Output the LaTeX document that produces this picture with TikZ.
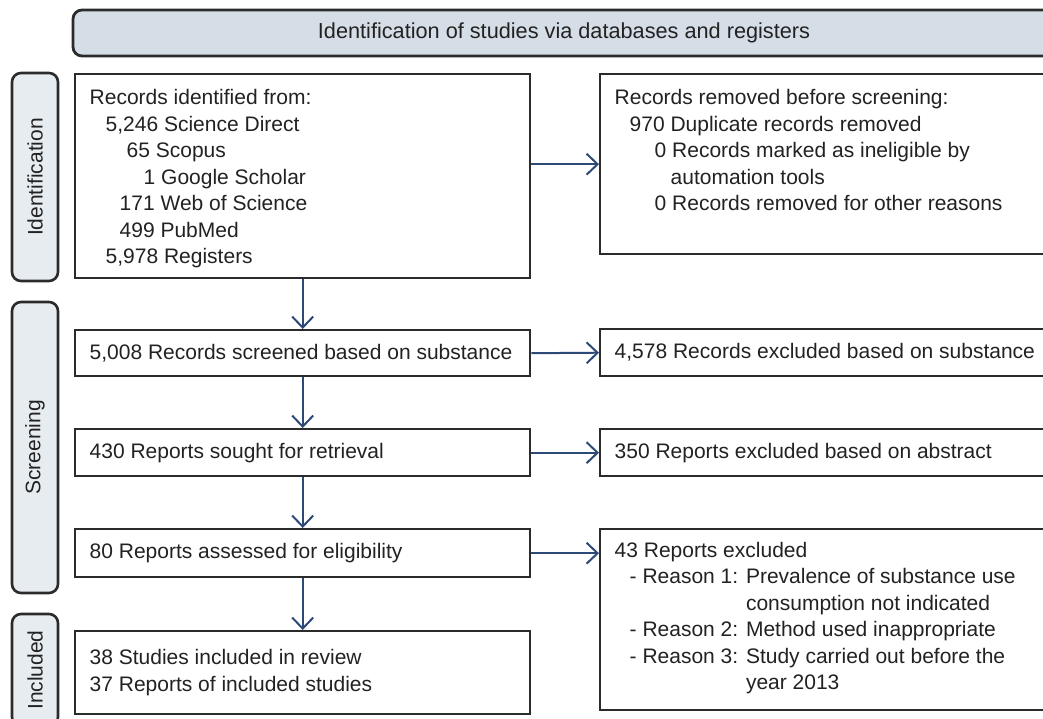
\documentclass[tikz,border=0pt]{standalone}
\usepackage{fontspec}
\setmainfont{Liberation Sans}
\usetikzlibrary{arrows.meta}
\definecolor{linec}{HTML}{2B2B2B}
\definecolor{textc}{HTML}{222222}
\definecolor{arrc}{HTML}{2D4A77}
\definecolor{headfill}{HTML}{D5DEE6}
\definecolor{sidefill}{HTML}{E7ECF1}
\begin{document}
\begin{tikzpicture}[x=1pt,y=-1pt,
  every node/.style={font=\fontsize{21pt}{26.5pt}\selectfont, text=textc},
  box/.style={draw=linec, line width=2.4pt, rectangle, anchor=north west, inner xsep=14.5pt, inner ysep=0pt, fill=white},
  sidebox/.style={draw=linec, line width=2.6pt, rounded corners=9pt, fill=sidefill, rotate=90, minimum height=46pt, inner sep=0pt},
  headbox/.style={draw=linec, line width=2.8pt, rounded corners=9pt, fill=headfill, minimum height=46pt, inner sep=0pt},
  arr/.style={draw=arrc, line width=2pt, -{Straight Barb[length=11pt, width=21pt, line width=2pt]}}
]
\useasboundingbox (0,0) rectangle (1043,718);
\clip (0,0) rectangle (1043,718);

% header
\node[headbox, minimum width=987pt] (head) at (566.5,33) {};
\node[font=\fontsize{21.7pt}{26pt}\selectfont] at (564,33) (headtext) {Identification of studies via databases and registers};

% side labels
\node[sidebox, minimum width=208pt] (sid) at (35,177) {Identification};
\node[sidebox, minimum width=291pt] (sscr) at (35,447.5) {Screening};
\node[sidebox, minimum width=112pt] (sinc) at (35,670) {Included};

% left boxes
\node[box] (box1) at (74,73) {\parbox[c][204pt][t]{426pt}{\raggedright
\rule{0pt}{30.7pt}Records identified from:\\
\hspace*{16pt}5,246 Science Direct\\
\hspace*{37pt}65 Scopus\\
\hspace*{54pt}1 Google Scholar\\
\hspace*{30pt}171 Web of Science\\
\hspace*{30pt}499 PubMed\\
\hspace*{16pt}5,978 Registers}};
\node[box] (box2) at (74,329) {\parbox[c][46pt][c]{426pt}{\raggedright 5,008 Records screened based on substance}};
\node[box] (box3) at (74,428) {\parbox[c][47pt][c]{426pt}{\raggedright 430 Reports sought for retrieval}};
\node[box] (box4) at (74,528) {\parbox[c][48pt][c]{426pt}{\raggedright 80 Reports assessed for eligibility}};
\node[box] (box5) at (74,630) {\parbox[c][83pt][c]{426pt}{\raggedright 38 Studies included in review\\37 Reports of included studies}};

% right boxes
\node[box] (rbox1) at (599,73) {\parbox[c][180pt][t]{432pt}{\raggedright
\rule{0pt}{30.7pt}Records removed before screening:\\
\hspace*{15pt}970 Duplicate records removed\\
\hspace*{40pt}0 Records marked as ineligible by\\
\hspace*{56pt}automation tools\\
\hspace*{40pt}0 Records removed for other reasons}};
\node[box] (rbox2) at (599,328) {\parbox[c][47pt][c]{432pt}{\raggedright 4,578 Records excluded based on substance}};
\node[box] (rbox3) at (599,428) {\parbox[c][47pt][c]{432pt}{\raggedright 350 Reports excluded based on abstract}};
\node[box] (rbox4) at (599,528) {\parbox[c][181pt][c]{432pt}{\raggedright
43 Reports excluded\\
\hspace*{15pt}\begin{tabular}[t]{@{}l@{ }l@{}}
- Reason 1: & Prevalence of substance use\\
 & consumption not indicated\\
- Reason 2: & Method used inappropriate\\
- Reason 3: & Study carried out before the\\
 & year 2013
\end{tabular}}};

% arrows
\draw[arr] (box1.south) -- (box2.north);
\draw[arr] (box2.south) -- (box3.north);
\draw[arr] (box3.south) -- (box4.north);
\draw[arr] (box4.south) -- (box5.north);
\draw[arr] (box1.east |- rbox1.west) -- (rbox1.west);
\draw[arr] (box2.east) -- (rbox2.west);
\draw[arr] (box3.east) -- (rbox3.west);
\draw[arr] (box4.east) -- (box4.east -| rbox4.west);
\end{tikzpicture}
\end{document}
